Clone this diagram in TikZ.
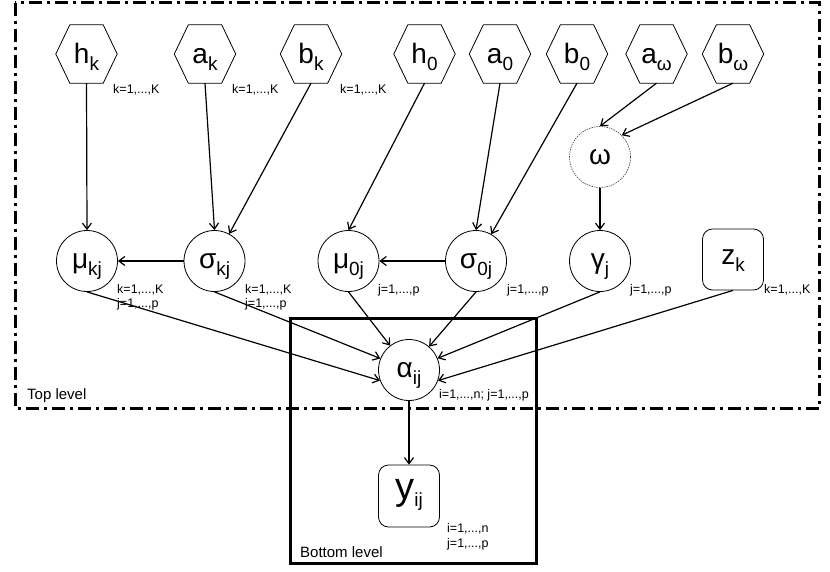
\documentclass[tikz,border=0pt]{standalone}
\usepackage{fontspec}
\setmainfont{Liberation Sans}
\usetikzlibrary{arrows.meta}
\newcommand\nm[3][28]{{\fontsize{#1}{#1}\selectfont #2}\raisebox{-7pt}{\fontsize{19}{19}\selectfont #3}}
\newcommand\hexnode[3]{%
  \node[hexbox] (#1) at (#2) {#3};
  \draw[line width=0.8pt] (#1.west) -- ([xshift=14pt]#1.north west) -- ([xshift=-14pt]#1.north east)
     -- (#1.east) -- ([xshift=-14pt]#1.south east) -- ([xshift=14pt]#1.south west) -- cycle;}
\begin{document}
\begin{tikzpicture}[x=1pt,y=-1pt,
  hexbox/.style={rectangle,inner sep=0pt,minimum width=61pt,minimum height=58pt,text height=22pt,text depth=4pt},
  circ/.style={circle,draw,line width=0.8pt,inner sep=0pt,minimum size=61pt,text height=20pt,text depth=6pt},
  rbox/.style={rectangle,rounded corners=10pt,draw,line width=0.8pt,inner sep=0pt,minimum width=61pt,minimum height=61pt},
  lab/.style={font=\fontsize{12.5}{12.5}\selectfont,inner sep=0pt,anchor=base west},
  lvl/.style={font=\fontsize{15}{15}\selectfont,inner sep=0pt,anchor=base west},
  arr/.style={line width=1.2pt,-{Straight Barb[length=6pt,width=9pt]}},
  dashdot/.style={line width=3pt,dash pattern=on 13pt off 5pt on 3pt off 5pt}]
\useasboundingbox (0,0) rectangle (830,571);
% frames
\draw[dashdot] (15,2.5) rectangle (819,408);
\draw[line width=3pt] (290,318) rectangle (536,563);
\node[lvl] (toplev) at (27,399) {Top level};
\node[lvl] (botlev) at (300,557) {Bottom level};
% hexagons
\hexnode{hk}{86.5,54}{\nm{h}{k}}
\hexnode{ak}{205,54}{\nm{a}{k}}
\hexnode{bk}{311,54}{\nm{b}{k}}
\hexnode{h0}{424.5,54}{\nm{h}{0}}
\hexnode{a0}{500,54}{\nm{a}{0}}
\hexnode{b0}{577,54}{\nm{b}{0}}
\hexnode{aw}{656.5,54}{\nm{a}{ω}}
\hexnode{bw}{733,54}{\nm{b}{ω}}
\node[lab] (lhk) at (113,93) {k=1,...,K};
\node[lab] (lak) at (232,93) {k=1,...,K};
\node[lab] (lbk) at (340,93) {k=1,...,K};
% omega
\node[circ,draw=black!75,line width=0.6pt,dash pattern=on 1.5pt off 1pt,text height=15pt,text depth=0pt] (om) at (600,157) {\fontsize{28}{28}\selectfont ω};
% middle row
\node[circ] (mukj) at (87,261) {\nm{μ}{kj}};
\node[circ] (sigkj) at (214.5,261) {\nm{σ}{kj}};
\node[circ] (mu0j) at (348.5,261) {\nm{μ}{0j}};
\node[circ] (sig0j) at (476,261) {\nm{σ}{0j}};
\node[circ] (gamj) at (600,261) {\nm{γ}{j}};
\node[rbox,text height=16pt,text depth=6pt] (zk) at (733,259.5) {\nm{z}{k}};
\node[lab] (lmu1) at (117,293) {k=1,...,K};
\node[lab] (lmu2) at (117,307) {j=1,...,p};
\node[lab] (lsig1) at (245,293) {k=1,...,K};
\node[lab] (lsig2) at (245,307) {j=1,...,p};
\node[lab] (lmu0) at (378,293) {j=1,...,p};
\node[lab] (lsig0) at (507,293) {j=1,...,p};
\node[lab] (lgam) at (630,293) {j=1,...,p};
\node[lab] (lzk) at (764,293) {k=1,...,K};
% alpha and y
\node[circ] (al) at (409,370) {\nm{α}{ij}};
\node[lab] (lal) at (439,398) {i=1,...,n; j=1,...,p};
\node[rbox,minimum height=62pt,text height=14pt,text depth=8pt] (y) at (409,496) {\nm[38]{y}{ij}};
\node[lab] (ly1) at (447,532) {i=1,...,n};
\node[lab] (ly2) at (447,547) {j=1,...,p};
% edges
\draw[arr] (hk.south) -- (mukj.north);
\draw[arr] (ak.south) -- (sigkj.north);
\draw[arr] (bk.south) -- (sigkj);
\draw[arr] (h0.south) -- (mu0j.north);
\draw[arr] (a0.south) -- (sig0j.north);
\draw[arr] (b0.south) -- (sig0j);
\draw[arr] (aw.south) -- (om.north);
\draw[arr] (bw.south) -- (om.45);
\draw[arr] (om.south) -- (gamj.north);
\draw[arr] (sigkj) -- (mukj);
\draw[arr] (sig0j) -- (mu0j);
\draw[arr] (mukj.south) -- (al.200);
\draw[arr] (sigkj.south) -- (al);
\draw[arr] (mu0j.south) -- (al);
\draw[arr] (sig0j.south) -- (al);
\draw[arr] (gamj.south) -- (al);
\draw[arr] (zk.south) -- (al.-20);
\draw[arr] (al.south) -- (y.north);
\end{tikzpicture}
\end{document}
